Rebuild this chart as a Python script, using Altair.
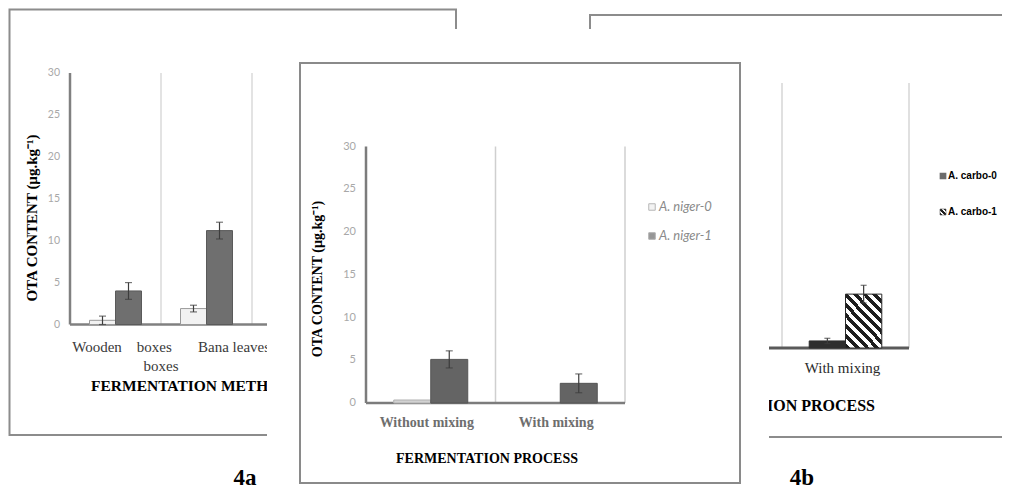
import altair as alt
import pandas as pd

# ---------------- data ----------------
y_ticks = [0, 5, 10, 15, 20, 25, 30]
y_title = "OTA CONTENT (µg.kg⁻¹)"
panel_labels = ["4a", "4b"]

# panel 4a (left, partly hidden)
a_categories = ["Wooden boxes", "Bana leaves"]
a_series = ["A. niger-0", "A. niger-1"]
a_s0_values = [0.5, 1.9]
a_s0_errors = [0.5, 0.4]
a_s1_values = [4.0, 11.2]
a_s1_errors = [1.0, 1.0]
a_label_line1 = ["Wooden\u00a0\u00a0\u00a0\u00a0boxes", "Bana leaves"]
a_label_line2 = ["boxes"]
a_x_title = "FERMENTATION METHOD"

# middle panel (on top)
m_categories = ["Without mixing", "With mixing"]
m_series = ["A. niger-0", "A. niger-1"]
m_s0_values = [0.35, 0.0]
m_s0_errors = [0.0, 0.0]
m_s1_values = [5.1, 2.3]
m_s1_errors = [1.0, 1.1]
m_x_title = "FERMENTATION PROCESS"

# panel 4b (right, partly hidden)
b_categories = ["Without mixing", "With mixing"]
b_series = ["A. carbo-0", "A. carbo-1"]
b_shown_categories = ["With mixing"]
b_s0_values = [0.8]
b_s0_errors = [0.3]
b_s1_values = [6.1]
b_s1_errors = [1.0]
b_x_title = "FERMENTATION PROCESS"


def V(p):
    """page pixel -> view pixel (page has 8px margin)"""
    return p - 8


def bars_df(cats, series, s0v, s0e, s1v, s1e):
    rows = []
    for c, v, e in zip(cats, s0v, s0e):
        rows.append(dict(cat=c, series=series[0], value=v, err=e, lo=v - e, hi=v + e))
    for c, v, e in zip(cats, s1v, s1e):
        rows.append(dict(cat=c, series=series[1], value=v, err=e, lo=v - e, hi=v + e))
    return pd.DataFrame(rows)


def stripes(n, x2, y2, dark="#1e1e1e"):
    stops = []
    for k in range(n):
        col = dark if k % 2 == 0 else "#ffffff"
        stops.append(alt.GradientStop(offset=k / n, color=col))
        stops.append(alt.GradientStop(offset=(k + 1) / n, color=col))
    return alt.LinearGradient(gradient="linear", stops=stops, x1=0, y1=1, x2=x2, y2=y2)


one = pd.DataFrame({"k": [0]})
SERIF = "Liberation Serif"


def txt(x, y, text, size, color="#000000", weight="normal", font=SERIF, align="center",
        angle=0, style="normal", baseline="middle"):
    return alt.Chart(one).mark_text(
        text=text, fontSize=size, color=color, fontWeight=weight, font=font, align=align,
        angle=angle, fontStyle=style, baseline=baseline
    ).encode(x=alt.value(V(x)), y=alt.value(V(y)))


def box(x1, y1, x2, y2, stroke="#8c8c8c", fill=None, sw=2):
    kw = dict(stroke=stroke, strokeWidth=sw)
    if fill is None:
        kw["fillOpacity"] = 0
        kw["fill"] = "white"
    else:
        kw["fill"] = fill
    return alt.Chart(one).mark_rect(**kw).encode(
        x=alt.value(V(x1)), x2=alt.value(V(x2)), y=alt.value(V(y1)), y2=alt.value(V(y2)))


def make_panel(df, cats, series, xr, yr, fills, strokes, tick_x, tick_size, tick_color,
               base_end, axis_color, axis_w, base_color, base_w, sep_color, cap_size,
               err_color, label_y=None, label_size=14, label_color="#333", label_weight="normal",
               label_dx=0, tick_font="Lato"):
    xs = alt.Scale(domain=cats, range=[V(xr[0]), V(xr[1])], paddingInner=0, paddingOuter=0)
    ys = alt.Scale(domain=[0, 30], range=[V(yr[0]), V(yr[1])], nice=False, zero=False)
    xo = alt.Scale(domain=series, paddingInner=0, paddingOuter=0.75)
    X = alt.X("cat:N", scale=xs, axis=None)
    XO = alt.XOffset("series:N", scale=xo)
    layers = []
    sep_df = pd.DataFrame({"cat": cats, "lo": [0] * len(cats), "hi": [30] * len(cats)})
    layers.append(alt.Chart(sep_df).mark_rule(color=sep_color, strokeWidth=1.5).encode(
        x=alt.X("cat:N", scale=xs, axis=None, bandPosition=1),
        y=alt.Y("lo:Q", scale=ys, axis=None), y2="hi:Q"))
    ax_df = pd.DataFrame({"lo": [0], "hi": [30]})
    layers.append(alt.Chart(ax_df).mark_rule(color=axis_color, strokeWidth=axis_w).encode(
        x=alt.value(V(xr[0])), y=alt.Y("lo:Q", scale=ys, axis=None), y2="hi:Q"))
    layers.append(alt.Chart(ax_df).mark_rule(color=base_color, strokeWidth=base_w).encode(
        x=alt.value(V(xr[0])), x2=alt.value(V(base_end)), y=alt.Y("lo:Q", scale=ys, axis=None)))
    tdf = pd.DataFrame({"t": y_ticks})
    layers.append(alt.Chart(tdf).mark_text(align="right", baseline="middle", font=tick_font,
                                           fontSize=tick_size, color=tick_color).encode(
        x=alt.value(V(tick_x)), y=alt.Y("t:Q", scale=ys, axis=None), text="t:Q"))
    for i, s in enumerate(series):
        layers.append(alt.Chart(df).transform_filter(
            (alt.datum.series == s) & (alt.datum.value > 0)
        ).mark_bar(fill=fills[i], stroke=strokes[i], strokeWidth=1).encode(
            x=X, xOffset=XO, y=alt.Y("value:Q", scale=ys, axis=None)))
    edf = alt.Chart(df).transform_filter(alt.datum.err > 0)
    layers.append(edf.mark_rule(color=err_color, strokeWidth=1.2).encode(
        x=X, xOffset=XO, y=alt.Y("lo:Q", scale=ys, axis=None), y2="hi:Q"))
    layers.append(edf.mark_tick(orient="horizontal", size=cap_size, thickness=1.2,
                                color=err_color).encode(
        x=X, xOffset=XO, y=alt.Y("hi:Q", scale=ys, axis=None)))
    layers.append(edf.mark_tick(orient="horizontal", size=cap_size, thickness=1.2,
                                color=err_color).encode(
        x=X, xOffset=XO, y=alt.Y("lo:Q", scale=ys, axis=None)))
    if label_y is not None:
        ldf = pd.DataFrame({"cat": cats})
        layers.append(alt.Chart(ldf).mark_text(
            font=SERIF, fontSize=label_size, color=label_color, fontWeight=label_weight,
            baseline="middle", dx=label_dx).encode(
            x=X, y=alt.value(V(label_y)), text="cat:N"))
    return alt.layer(*layers)


# ---------- panel 4a ----------
df_a = bars_df(a_categories, a_series, a_s0_values, a_s0_errors, a_s1_values, a_s1_errors)
panel_a = make_panel(df_a, a_categories, a_series, xr=(70, 252), yr=(324.5, 73),
                     fills=["#f2f2f2", "#6f6f6f"], strokes=["#9a9a9a", "#5a5a5a"],
                     tick_x=60, tick_size=10.5, tick_color="#a8a8a8", base_end=343,
                     axis_color="#808080", axis_w=2.5, base_color="#808080", base_w=2.5,
                     sep_color="#dadada", cap_size=7, err_color="#3c3c3c")

# ---------- panel 4b ----------
df_b = bars_df(b_shown_categories, b_series, b_s0_values, b_s0_errors, b_s1_values, b_s1_errors)
panel_b = make_panel(df_b, b_categories, b_series, xr=(655, 909), yr=(348, 83),
                     fills=["#2e2e2e", stripes(18, 0.8, -0.14)], strokes=["#2e2e2e", "#2a2a2a"],
                     tick_x=645, tick_size=10, tick_color="#a8a8a8", base_end=909,
                     axis_color="#808080", axis_w=2.5, base_color="#5a5a5a", base_w=3,
                     sep_color="#d6d6d6", cap_size=6, err_color="#3c3c3c",
                     label_y=368, label_size=15, label_color="#2b2b2b", label_dx=-3)

# ---------- middle panel ----------
df_m = bars_df(m_categories, m_series, m_s0_values, m_s0_errors, m_s1_values, m_s1_errors)
panel_m = make_panel(df_m, m_categories, m_series, xr=(366, 625), yr=(403, 146.5),
                     fills=["#d2d2d2", "#646464"], strokes=["#b0b0b0", "#555555"],
                     tick_x=356, tick_size=11, tick_color="#a8a8a8", base_end=625,
                     axis_color="#7c7c7c", axis_w=2.5, base_color="#7c7c7c", base_w=2.5,
                     sep_color="#cfcfcf", cap_size=7, err_color="#3c3c3c",
                     label_y=423, label_size=14, label_color="#6e6e6e", label_weight="bold",
                     label_dx=-4)

layers = []
# panel 4a decorations + content
layers.append(box(9.5, 9.5, 456, 435))
layers.append(panel_a)
layers.append(txt(32, 218, y_title, 15, weight="bold", angle=270))
layers.append(txt(122, 347, a_label_line1[0], 15, color="#3a3a3a"))
layers.append(txt(161, 366, a_label_line2[0], 15, color="#3a3a3a"))
layers.append(txt(198, 347, a_label_line1[1], 15, color="#3a3a3a", align="left"))
layers.append(txt(91, 386, a_x_title, 15.5, weight="bold", align="left"))
# panel 4b decorations + content
layers.append(box(590, 15, 1030, 437))
layers.append(panel_b)
layers.append(txt(875, 406, b_x_title, 16, weight="bold", align="right"))
layers.append(alt.Chart(one).mark_square(size=22, fill="#2e2e2e", stroke="#2e2e2e").encode(
    x=alt.value(V(943)), y=alt.value(V(176))))
layers.append(alt.Chart(one).mark_rect(fill=stripes(5, 1, 0), stroke="#555", strokeWidth=0.6).encode(
    x=alt.value(V(940)), x2=alt.value(V(946)), y=alt.value(V(209)), y2=alt.value(V(215))))
layers.append(txt(948, 176, b_series[0], 10, weight="bold", font="Liberation Sans", align="left"))
layers.append(txt(948, 212, b_series[1], 10, weight="bold", font="Liberation Sans", align="left"))
# figure labels
layers.append(txt(245, 485, panel_labels[0], 23, weight="bold", baseline="alphabetic"))
layers.append(txt(802, 485, panel_labels[1], 23, weight="bold", baseline="alphabetic"))
# white backing of the middle figure, then the middle figure itself
layers.append(box(267, 29, 769, 499, stroke="white", fill="white", sw=0))
layers.append(box(300, 63, 740, 483, stroke="#8a8a8a", fill="white", sw=2))
layers.append(panel_m)
layers.append(txt(318, 279, y_title, 14, weight="bold", angle=270))
layers.append(txt(487, 459, m_x_title, 14, weight="bold"))
layers.append(alt.Chart(one).mark_square(size=42, fill="#eeeeee", stroke="#9a9a9a", strokeWidth=1).encode(
    x=alt.value(V(652)), y=alt.value(V(207))))
layers.append(alt.Chart(one).mark_square(size=42, fill="#6a6a6a", stroke="#8a8a8a", strokeWidth=1).encode(
    x=alt.value(V(652)), y=alt.value(V(236))))
layers.append(txt(659, 207, m_series[0], 13, color="#8a8a8a", font="Lato", style="italic", align="left"))
layers.append(txt(659, 236, m_series[1], 13, color="#8a8a8a", font="Lato", style="italic", align="left"))

chart = alt.layer(*layers).resolve_scale(
    x="independent", y="independent", xOffset="independent"
).properties(
    width=994, height=483, padding=0, autosize=alt.AutoSizeParams(type="none")
).configure_view(stroke=None)

chart.save("out.html", embed_options={"renderer": "svg", "actions": False})
